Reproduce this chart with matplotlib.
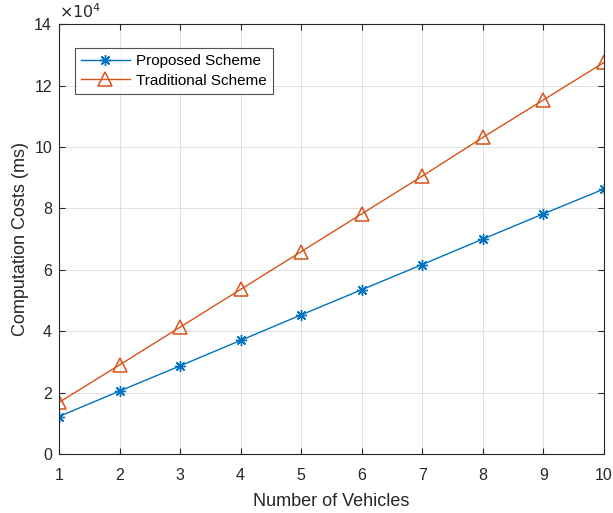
import matplotlib
matplotlib.use("Agg")
import matplotlib.pyplot as plt

vehicles = [1, 2, 3, 4, 5, 6, 7, 8, 9, 10]
proposed = [12200, 20500, 28700, 37000, 45300, 53500, 61700, 70000, 78200, 86300]
traditional = [16800, 29000, 41300, 53600, 65900, 78200, 90500, 103100, 115300, 127500]

plt.rcParams['font.family'] = ['Liberation Sans', 'DejaVu Sans']
fig = plt.figure(figsize=(6.13, 5.13), dpi=100)
ax = fig.add_axes([0.0962, 0.115, 0.889, 0.838])

ax.plot(vehicles, proposed, color='#0072BD', marker=(8, 2, 0), markersize=8, lw=1,
        markeredgewidth=1, label='Proposed Scheme')
ax.plot(vehicles, traditional, color='#D95319', marker='^', markersize=9.5, lw=1,
        markerfacecolor='none', markeredgewidth=1.1, label='Traditional Scheme')

ax.set_xlim(1, 10)
ax.set_ylim(0, 140000)
ax.set_xticks(vehicles)
ax.set_yticks(range(0, 140001, 20000))
ax.set_yticklabels([str(v // 10000) for v in range(0, 140001, 20000)])
ax.text(0.0, 1.008, r'$\times10^4$', transform=ax.transAxes, fontsize=11.5,
        ha='left', va='bottom', color='#262626', family='DejaVu Sans')

ax.grid(True, color='#dcdcdc', lw=0.6)
ax.set_axisbelow(True)
ax.tick_params(direction='in', top=True, right=True, labelsize=11.5, colors='#262626', length=4)
ax.tick_params(axis='x', pad=10)
ax.tick_params(axis='y', pad=5)
for s in ax.spines.values():
    s.set_color('#262626')
    s.set_linewidth(0.8)

ax.set_xlabel('Number of Vehicles', fontsize=13, color='#262626', labelpad=7)
ax.set_ylabel('Computation Costs (ms)', fontsize=13, color='#262626', labelpad=4)

leg = ax.legend(loc='upper left', bbox_to_anchor=(0.029, 0.944), fontsize=11,
                frameon=True, fancybox=False, edgecolor='#262626', borderaxespad=0,
                borderpad=0.4, handlelength=3.2, handletextpad=0.4, labelspacing=0.35)
leg.get_frame().set_linewidth(0.8)

fig.savefig('out.png', dpi=100)
